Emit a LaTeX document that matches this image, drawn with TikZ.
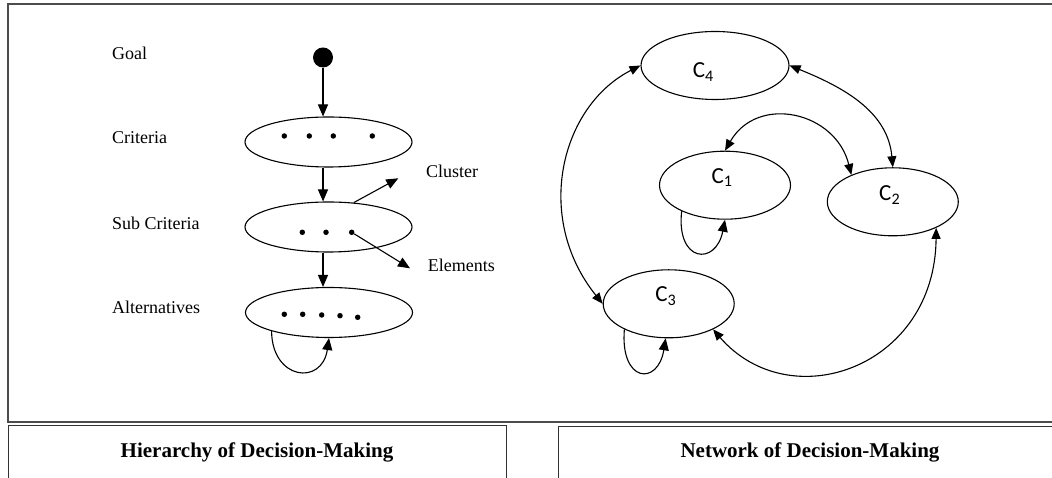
\documentclass[tikz,border=0pt]{standalone}
\usepackage{fontspec}
\setmainfont{Liberation Serif}
\newfontfamily\clfont{Carlito}
\usetikzlibrary{shapes.geometric,arrows.meta}

\tikzset{
  lvl/.style={draw,ellipse,line width=1.1pt,minimum width=167pt,minimum height=50pt,inner sep=0pt},
  clus/.style={draw,ellipse,line width=1.1pt,minimum width=131pt,minimum height=68pt,inner sep=0pt},
  arr/.style={line width=1.1pt,-{Triangle[length=12pt,width=10pt]}},
  both/.style={line width=1.1pt,{Triangle[length=11pt,width=9pt]}-{Triangle[length=11pt,width=9pt]}},
  lbl/.style={font=\fontsize{18}{20}\selectfont,anchor=west,inner sep=0pt},
  cname/.style={font=\clfont\fontsize{23}{25}\selectfont,inner sep=0pt},
  ttl/.style={font=\bfseries\fontsize{21}{24}\selectfont,inner sep=0pt},
  dt/.style={circle,fill,inner sep=0pt,minimum size=5.5pt}
}

\begin{document}
\begin{tikzpicture}[x=1pt,y=1pt]
			\useasboundingbox (0,0) rectangle (1052,478);
			
			% frames
			\draw[line width=1.5pt,black!70] (1054,474)--(8,474)--(8,56)--(1054,56);
			\draw[line width=1pt,black!80] (8,-2)--(8,52)--(506,52)--(506,-2);
			\draw[line width=1pt,black!80] (558,-2)--(558,51)--(1054,51);
			\node [ttl] (hier) at (257,26) {Hierarchy of Decision-Making};
			\node [ttl] (netw) at (810,26) {Network of Decision-Making};
			
			% hierarchy
			\node [lbl] (goallbl) at (112,425) {Goal};
			\node [lbl] (critlbl) at (112,340) {Criteria};
			\node [lbl] (sublbl) at (112,255) {Sub Criteria};
			\node [lbl] (altlbl) at (112,170.5) {Alternatives};
			
			\node [circle,fill,minimum size=20pt,inner sep=0pt] (goal) at (323,420.5) {};
			\node [lvl] (crit) at (328.5,336) {};
			\node [lvl] (sub) at (328.5,251) {};
			\node [lvl] (alt) at (329,165.5) {};
			
			\foreach \x [count=\i] in {284.3,309.3,333.3,372.3}
				\node [dt] (cd\i) at (\x,342) {};
			\foreach \x [count=\i] in {302.3,326,351.7}
				\node [dt] (sd\i) at (\x,245.7) {};
			\foreach \x/\y [count=\i] in {284.3/163.7,302.7/163.7,321.7/163,340/162.3,357.7/160.7}
				\node [dt] (ad\i) at (\x,\y) {};
			
			\draw[arr] (goal)--(goal |- crit.north);
			\draw[arr] (crit.south -| goal)--(sub.north -| goal);
			\draw[arr] (sub.south -| goal)--(alt.north -| goal);
			\draw[arr] (alt.198) .. controls (272,98) and (322,92) .. (alt.south);
			
			\coordinate (clc) at (398.3,299.7);
			\coordinate (elc) at (410,209.7);
			\draw[arr] (sub.44)--(clc);
			\draw[arr] (sd3)--(elc);
			\node [lbl] (cllbl) at (426,306.3) {Cluster};
			\node [lbl] (ellbl) at (427.7,212.3) {Elements};
			
			% network
			\node [clus,minimum width=148pt] (c4) at (715,412.5) {};
			\node [clus] (c1) at (725,292.8) {};
			\node [clus] (c2) at (892.8,276.2) {};
			\node [clus] (c3) at (668.7,174.2) {};
			\node [cname] (c4t) at (703.3,406) {C\textsubscript{4}};
			\node [cname] (c1t) at (722,300.5) {C\textsubscript{1}};
			\node [cname] (c2t) at (889.7,283) {C\textsubscript{2}};
			\node [cname] (c3t) at (665.8,181.8) {C\textsubscript{3}};
			
			\draw[both] (c4.west) .. controls (561,372) and (533,261) .. (c3.west);
			\draw[both] (c4.east) to[out=-22,in=95] (c2.north);
			\draw[both] (c1.north) to[out=60,in=104,looseness=1.3] (c2.147);
			\draw[both] (c2.-31) .. controls (935,110) and (790,60) .. (c3.-30);
			\draw[arr] (c1.211) .. controls (676,215) and (716,212) .. (c1.south);
			\draw[arr] (c3.210) .. controls (620,95) and (658,92) .. (c3.265);
		\end{tikzpicture}
\end{document}
